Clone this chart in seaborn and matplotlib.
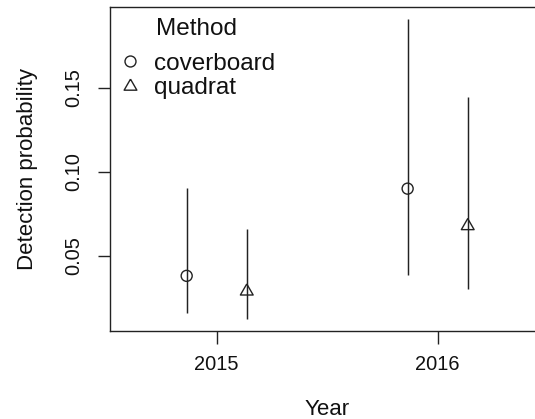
import numpy as np
import pandas as pd
import matplotlib
matplotlib.use("Agg")
import matplotlib.pyplot as plt
import seaborn as sns
from matplotlib.lines import Line2D

# ---- data ----
years = [2015, 2016]
methods = ["coverboard", "quadrat"]
coverboard_p = [0.0380, 0.0899]
coverboard_lo = [0.0157, 0.0385]
coverboard_hi = [0.0901, 0.1907]
quadrat_p = [0.0288, 0.0677]
quadrat_lo = [0.0121, 0.0304]
quadrat_hi = [0.0657, 0.1443]
xtick_labels = ["2015", "2016"]
ytick_vals = [0.05, 0.10, 0.15]
ytick_labels = ["0.05", "0.10", "0.15"]

sns.set_theme(style="ticks")
plt.rcParams["font.family"] = ["Liberation Sans", "DejaVu Sans"]

ink = "#222222"
dodge = {"coverboard": -0.136, "quadrat": 0.136}
series = {
    "coverboard": (coverboard_p, coverboard_lo, coverboard_hi),
    "quadrat": (quadrat_p, quadrat_lo, quadrat_hi),
}
rows = []
for m in methods:
    p, lo, hi = series[m]
    for yr, pv, l, h in zip(years, p, lo, hi):
        rows.append(dict(Year=yr, Method=m, p=pv, lo=l, hi=h, x=yr + dodge[m]))
df = pd.DataFrame(rows)

fig = plt.figure(figsize=(5.35, 4.19), dpi=100)
ax = fig.add_axes([110 / 535, 88 / 419, 434.4 / 535, 324 / 419])

# error bars
ax.vlines(df["x"], df["lo"], df["hi"], color=ink, lw=1.05, zorder=2)

tri = [(0, 1.555), (1.347, -0.778), (-1.347, -0.778), (0, 1.555)]
marker_map = {"coverboard": "o", "quadrat": tri}
sns.scatterplot(
    data=df, x="x", y="p", style="Method", markers=marker_map,
    size="Method", sizes={"coverboard": 63, "quadrat": 113},
    facecolor="none", edgecolor=ink, linewidth=1.0,
    legend=False, ax=ax, zorder=3,
)

ax.set_xlim(2014.517, 2016.483)
ax.set_ylim(0.00518, 0.198)
ax.set_xticks(years)
ax.set_xticklabels(xtick_labels)
ax.set_yticks(ytick_vals)
ax.set_yticklabels(ytick_labels, rotation=90, va="center")
ax.tick_params(axis="both", direction="out", length=9, width=1.0, color=ink,
               labelsize=14.4, bottom=True, left=True, labelcolor="#111111")
ax.tick_params(axis="x", pad=8)
ax.tick_params(axis="y", pad=10)

for sp in ax.spines.values():
    sp.set_visible(True)
    sp.set_color(ink)
    sp.set_linewidth(1.0)

ax.set_xlabel("Year", fontsize=16, color="#111111")
ax.set_ylabel("Detection probability", fontsize=16, color="#111111")
ax.xaxis.set_label_coords(0.5, -0.209)
ax.yaxis.set_label_coords(-0.166, 0.5)

handles = [
    Line2D([], [], ls="none", marker="o", mfc="none", mec=ink, mew=1.0, ms=7.9),
    Line2D([], [], ls="none", marker=tri, mfc="none", mec=ink, mew=1.0, ms=10.6),
]
leg = ax.legend(handles, methods, title="Method", loc="upper left",
                bbox_to_anchor=(117.5 / 535, 1 - 18 / 419), bbox_transform=fig.transFigure,
                frameon=False, fontsize=17.5, title_fontsize=17.5, labelspacing=0.12,
                handlelength=1.0, handletextpad=0.5, borderpad=0, borderaxespad=0)
leg._legend_box.sep = 9.0
for t in leg.get_texts():
    t.set_color("#111111")
leg.get_title().set_color("#111111")

fig.savefig("out.png", dpi=100)
